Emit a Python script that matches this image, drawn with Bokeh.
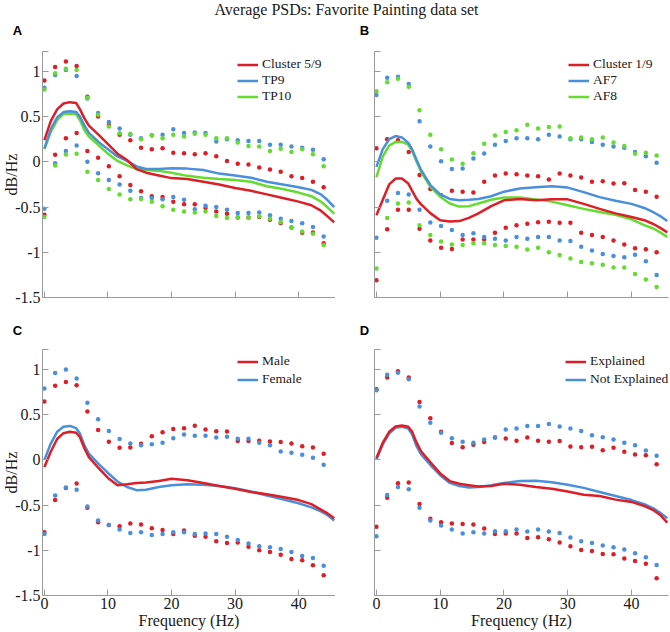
from bokeh.plotting import figure
from bokeh.layouts import column, row
from bokeh.models import (Label, Legend, LegendItem, CustomJSTickFormatter,
                          FixedTicker, Range1d)
from bokeh.embed import file_html
from bokeh.resources import INLINE

TITLE = "Average PSDs: Favorite Painting data set"
PANEL_LETTERS = ["A", "B", "C", "D"]
X_LABEL = "Frequency (Hz)"
Y_LABEL = "dB/Hz"
X_TICKS = [0, 10, 20, 30, 40]
Y_TICKS = [-1.5, -1, -0.5, 0, 0.5, 1]
Y_TOP = 1.22

# frequencies of the dotted (upper / lower) bands
DOT_FREQ = [0.0, 1.69, 3.38, 5.07, 6.76, 8.45, 10.14, 11.83, 13.52, 15.21, 16.9,
            18.59, 20.28, 21.97, 23.66, 25.35, 27.04, 28.73, 30.42, 32.11, 33.8,
            35.49, 37.18, 38.87, 40.56, 42.25, 43.94]
# frequencies of the mean curves
LINE_FREQ = [0, 1, 2, 3, 4, 5, 5.6, 6.3, 7, 8.5, 10, 11.5, 13, 14.5, 16, 18, 20,
             22.5, 25, 27.5, 30, 32.5, 35, 37.5, 40, 42, 43.5, 44.5, 45.6]

RED = "#dc1f26"
BLUE = "#4a8fdb"
GREEN = "#63dc2f"

# ---------------- Panel A ----------------
A_NAMES = ["Cluster 5/9", "TP9", "TP10"]
A_LINE_CLUSTER = [0.24, 0.45, 0.58, 0.645, 0.66, 0.65, 0.58, 0.48, 0.40, 0.30, 0.195, 0.09, 0.02, -0.08, -0.12,
                  -0.15, -0.18, -0.19, -0.22, -0.25, -0.29, -0.32, -0.36, -0.40, -0.44, -0.48, -0.54, -0.60, -0.67]
A_LINE_TP9 = [0.15, 0.36, 0.49, 0.55, 0.56, 0.55, 0.50, 0.40, 0.32, 0.22, 0.14, 0.06, 0.01, -0.05, -0.08,
              -0.08, -0.07, -0.075, -0.09, -0.13, -0.15, -0.175, -0.22, -0.25, -0.28, -0.31, -0.36, -0.42, -0.50]
A_LINE_TP10 = [0.14, 0.33, 0.46, 0.53, 0.535, 0.525, 0.46, 0.35, 0.28, 0.185, 0.09, 0.01, -0.04, -0.08, -0.09,
               -0.10, -0.12, -0.155, -0.175, -0.19, -0.20, -0.22, -0.27, -0.30, -0.34, -0.38, -0.44, -0.50, -0.575]
A_UP_CLUSTER = [0.90, 1.05, 1.11, 1.06, 0.72, 0.50, 0.41, 0.30, 0.24, 0.155, 0.14, 0.15, 0.10, 0.095, 0.085,
                0.095, 0.063, 0.01, -0.02, -0.03, -0.063, -0.085, -0.11, -0.16, -0.18, -0.22, -0.28]
A_UP_TP9 = [0.82, 0.96, 1.015, 0.95, 0.70, 0.54, 0.44, 0.37, 0.30, 0.26, 0.295, 0.30, 0.36, 0.32, 0.325,
            0.32, 0.225, 0.25, 0.24, 0.23, 0.23, 0.19, 0.19, 0.17, 0.155, 0.135, 0.03]
A_UP_TP10 = [0.80, 0.98, 1.03, 1.015, 0.71, 0.52, 0.39, 0.315, 0.31, 0.25, 0.29, 0.26, 0.30, 0.28, 0.31,
             0.30, 0.26, 0.26, 0.215, 0.175, 0.17, 0.12, 0.145, 0.11, 0.14, 0.085, -0.05]
A_LO_CLUSTER = [-0.585, 0.078, 0.26, 0.32, 0.12, 0.045, -0.05, -0.16, -0.255, -0.325, -0.38, -0.39, -0.44, -0.47,
                -0.47, -0.51, -0.55, -0.575, -0.615, -0.615, -0.61, -0.64, -0.675, -0.725, -0.785, -0.78, -0.90]
A_LO_TP9 = [-0.52, -0.015, 0.12, 0.18, 0.0, -0.125, -0.2, -0.25, -0.32, -0.40, -0.40, -0.415, -0.39, -0.42,
            -0.525, -0.485, -0.50, -0.53, -0.565, -0.565, -0.56, -0.59, -0.63, -0.655, -0.68, -0.72, -0.825]
A_LO_TP10 = [-0.61, -0.04, 0.08, 0.09, -0.11, -0.20, -0.30, -0.36, -0.415, -0.41, -0.44, -0.49, -0.53, -0.55,
             -0.56, -0.55, -0.60, -0.62, -0.61, -0.62, -0.605, -0.63, -0.665, -0.73, -0.77, -0.795, -0.92]

# ---------------- Panel B ----------------
B_NAMES = ["Cluster 1/9", "AF7", "AF8"]
B_LINE_CLUSTER = [-0.59, -0.42, -0.25, -0.185, -0.185, -0.24, -0.32, -0.41, -0.47, -0.57, -0.645, -0.66, -0.655,
                  -0.62, -0.57, -0.49, -0.425, -0.41, -0.425, -0.415, -0.415, -0.465, -0.52, -0.57, -0.61, -0.645,
                  -0.69, -0.73, -0.78]
B_LINE_AF7 = [-0.055, 0.14, 0.25, 0.285, 0.27, 0.21, 0.14, 0.02, -0.09, -0.26, -0.36, -0.41, -0.425, -0.42, -0.41,
              -0.38, -0.33, -0.295, -0.28, -0.27, -0.285, -0.335, -0.39, -0.43, -0.465, -0.51, -0.56, -0.60, -0.655]
B_LINE_AF8 = [-0.17, 0.06, 0.18, 0.22, 0.22, 0.19, 0.12, 0.0, -0.11, -0.28, -0.385, -0.46, -0.495, -0.49, -0.46,
              -0.42, -0.395, -0.395, -0.415, -0.44, -0.48, -0.52, -0.555, -0.585, -0.635, -0.70, -0.74, -0.78, -0.83]
B_UP_CLUSTER = [0.15, 0.25, 0.24, 0.11, -0.145, -0.30, -0.37, -0.32, -0.33, -0.34, -0.22, -0.15, -0.13, -0.137,
                -0.15, -0.16, -0.196, -0.13, -0.15, -0.174, -0.22, -0.215, -0.24, -0.237, -0.31, -0.33, -0.385]
B_UP_AF7 = [0.74, 0.93, 0.94, 0.86, 0.45, 0.17, 0.007, -0.08, -0.075, 0.037, 0.093, 0.19, 0.23, 0.26, 0.26,
            0.25, 0.30, 0.28, 0.25, 0.25, 0.22, 0.19, 0.17, 0.155, 0.11, 0.063, -0.01]
B_UP_AF8 = [0.78, 0.88, 0.92, 0.83, 0.57, 0.30, 0.14, 0.026, -0.02, 0.096, 0.20, 0.29, 0.33, 0.35, 0.41,
            0.37, 0.385, 0.39, 0.26, 0.27, 0.25, 0.27, 0.215, 0.175, 0.09, 0.10, 0.07]
B_LO_CLUSTER = [-1.31, -0.745, -0.53, -0.53, -0.74, -0.87, -0.95, -0.965, -0.86, -0.86, -0.86, -0.785, -0.73,
                -0.70, -0.685, -0.667, -0.663, -0.674, -0.674, -0.785, -0.81, -0.83, -0.87, -0.915, -0.955,
                -0.967, -1.0]
B_LO_AF7 = [-0.84, -0.43, -0.345, -0.36, -0.53, -0.67, -0.71, -0.755, -0.81, -0.79, -0.83, -0.85, -0.87, -0.83,
            -0.85, -0.83, -0.83, -0.87, -0.874, -0.94, -0.98, -1.02, -1.04, -1.055, -1.026, -1.1, -1.25]
B_LO_AF8 = [-1.18, -0.62, -0.46, -0.45, -0.70, -0.81, -0.88, -0.915, -0.92, -0.90, -0.90, -0.92, -0.93, -0.94,
            -0.97, -0.95, -1.0, -1.03, -1.07, -1.107, -1.12, -1.137, -1.167, -1.167, -1.24, -1.30, -1.385]

# ---------------- Panel C ----------------
C_NAMES = ["Male", "Female"]
C_LINE_MALE = [-0.08, 0.09, 0.23, 0.295, 0.31, 0.30, 0.25, 0.125, 0.03, -0.09, -0.20, -0.28, -0.27, -0.255,
               -0.25, -0.235, -0.21, -0.225, -0.255, -0.29, -0.32, -0.355, -0.38, -0.41, -0.445, -0.49, -0.55,
               -0.59, -0.645]
C_LINE_FEMALE = [0.0, 0.18, 0.31, 0.365, 0.375, 0.35, 0.29, 0.16, 0.07, -0.045, -0.145, -0.24, -0.30, -0.335,
                 -0.33, -0.30, -0.28, -0.27, -0.275, -0.29, -0.315, -0.35, -0.395, -0.435, -0.48, -0.525, -0.57,
                 -0.61, -0.67]
C_UP_MALE = [0.645, 0.82, 0.86, 0.826, 0.535, 0.33, 0.2, 0.133, 0.137, 0.177, 0.26, 0.306, 0.34, 0.35, 0.376,
             0.336, 0.317, 0.314, 0.207, 0.207, 0.21, 0.203, 0.196, 0.18, 0.15, 0.137, 0.066]
C_UP_FEMALE = [0.79, 0.96, 1.0, 0.90, 0.63, 0.45, 0.32, 0.23, 0.18, 0.16, 0.173, 0.19, 0.24, 0.28, 0.266,
               0.266, 0.247, 0.255, 0.232, 0.232, 0.19, 0.162, 0.092, 0.077, 0.055, 0.022, -0.055]
C_LO_MALE = [-0.80, -0.445, -0.31, -0.262, -0.53, -0.69, -0.72, -0.734, -0.705, -0.716, -0.756, -0.775, -0.82,
             -0.78, -0.84, -0.85, -0.90, -0.92, -0.915, -0.96, -1.0, -1.02, -1.05, -1.096, -1.11, -1.166, -1.277]
C_LO_FEMALE = [-0.82, -0.395, -0.306, -0.33, -0.515, -0.67, -0.72, -0.77, -0.81, -0.80, -0.83, -0.82, -0.80,
               -0.80, -0.82, -0.815, -0.82, -0.85, -0.886, -0.926, -0.956, -0.967, -0.985, -1.02, -1.063,
               -1.085, -1.17]

# ---------------- Panel D ----------------
D_NAMES = ["Explained", "Not Explained"]
D_LINE_EXPL = [0.02, 0.19, 0.31, 0.37, 0.38, 0.365, 0.31, 0.19, 0.095, -0.03, -0.15, -0.235, -0.265, -0.28,
               -0.295, -0.29, -0.265, -0.275, -0.30, -0.32, -0.35, -0.385, -0.40, -0.44, -0.465, -0.51, -0.56,
               -0.61, -0.695]
D_LINE_NOT = [0.005, 0.17, 0.29, 0.355, 0.365, 0.345, 0.28, 0.15, 0.06, -0.06, -0.17, -0.255, -0.29, -0.305,
              -0.30, -0.28, -0.255, -0.235, -0.232, -0.248, -0.275, -0.31, -0.355, -0.40, -0.445, -0.49, -0.54,
              -0.585, -0.645]
D_UP_EXPL = [0.78, 0.91, 0.98, 0.91, 0.64, 0.46, 0.31, 0.185, 0.14, 0.166, 0.196, 0.247, 0.236, 0.21, 0.247,
             0.21, 0.20, 0.207, 0.148, 0.14, 0.144, 0.107, 0.133, 0.089, 0.059, 0.052, -0.048]
D_UP_NOT = [0.77, 0.94, 0.963, 0.89, 0.59, 0.41, 0.30, 0.24, 0.20, 0.19, 0.225, 0.247, 0.336, 0.347, 0.373,
            0.373, 0.395, 0.37, 0.347, 0.32, 0.273, 0.25, 0.225, 0.19, 0.162, 0.103, 0.044]
D_LO_EXPL = [-0.74, -0.42, -0.26, -0.25, -0.487, -0.65, -0.69, -0.705, -0.71, -0.716, -0.76, -0.82, -0.815,
             -0.815, -0.863, -0.856, -0.878, -0.915, -0.956, -0.996, -1.007, -1.04, -1.044, -1.09, -1.118,
             -1.148, -1.31]
D_LO_NOT = [-0.845, -0.39, -0.30, -0.325, -0.53, -0.67, -0.727, -0.77, -0.815, -0.80, -0.815, -0.79, -0.79,
            -0.77, -0.793, -0.77, -0.793, -0.81, -0.86, -0.90, -0.92, -0.948, -0.967, -0.99, -1.033, -1.077,
            -1.162]

SERIF = "Liberation Serif"
AXIS_GRAY = "#9a9a9a"
TEXT_DARK = "#1a1a1a"


def make_panel(names, colors, lines, uppers, lowers, width, height,
               border_left, border_right, border_top, border_bottom, show_y, show_x,
               leg_vx, leg_vy, leg_spacing):
    p = figure(width=width, height=height,
               x_range=Range1d(-0.3, 45.8), y_range=Range1d(-1.5, Y_TOP),
               toolbar_location=None, output_backend="svg",
               min_border_left=border_left, min_border_right=border_right,
               min_border_top=border_top, min_border_bottom=border_bottom)
    p.grid.visible = False
    p.outline_line_color = None

    for ax in (p.xaxis[0], p.yaxis[0]):
        ax.axis_line_color = AXIS_GRAY
        ax.axis_line_width = 1
        ax.major_tick_line_color = AXIS_GRAY
        ax.major_tick_in = 6
        ax.major_tick_out = 0
        ax.minor_tick_line_color = None
        ax.major_label_text_font = SERIF
        ax.major_label_text_font_size = "16px"
        ax.major_label_text_color = TEXT_DARK
        ax.major_label_standoff = 2
        ax.axis_label_text_font = SERIF
        ax.axis_label_text_font_size = "16px"
        ax.axis_label_text_font_style = "normal"
        ax.axis_label_text_color = TEXT_DARK
    p.xaxis.ticker = FixedTicker(ticks=X_TICKS)
    # the extra tick closes the top end of the y axis (no label)
    p.yaxis.ticker = FixedTicker(ticks=Y_TICKS + [Y_TOP])
    if show_y:
        p.yaxis.formatter = CustomJSTickFormatter(code="return tick > 1.1 ? '' : String(tick);")
        p.yaxis.axis_label = Y_LABEL
        p.yaxis.axis_label_standoff = -8
    else:
        p.yaxis.formatter = CustomJSTickFormatter(code="return '';")
    if show_x:
        p.xaxis.formatter = CustomJSTickFormatter(code="return String(tick);")
        p.xaxis.axis_label = X_LABEL
        p.xaxis.axis_label_standoff = 0
    else:
        p.xaxis.formatter = CustomJSTickFormatter(code="return '';")

    # dotted bands
    for c, up, lo in zip(colors, uppers, lowers):
        p.scatter(DOT_FREQ, up, size=4.5, fill_color=c, line_color=None)
        p.scatter(DOT_FREQ, lo, size=4.5, fill_color=c, line_color=None)

    # mean curves (first series drawn last, i.e. on top)
    rends = {}
    for i in reversed(range(len(names))):
        rends[i] = p.line(LINE_FREQ, lines[i], line_width=2.5, line_color=colors[i])

    items = [LegendItem(label=names[i], renderers=[rends[i]]) for i in range(len(names))]
    legend = Legend(items=items, location=(leg_vx, leg_vy),
                    border_line_color=None, background_fill_alpha=0,
                    padding=0, margin=0, spacing=leg_spacing,
                    glyph_width=21, glyph_height=15, label_height=15,
                    label_standoff=4, label_text_font=SERIF,
                    label_text_font_size="13.5px", label_text_color=TEXT_DARK)
    p.add_layout(legend)
    return p


def strip(height):
    s = figure(width=670, height=height, x_range=Range1d(0, 1), y_range=Range1d(0, 1),
               x_axis_type=None, y_axis_type=None, toolbar_location=None,
               output_backend="svg", min_border=0)
    s.grid.visible = False
    s.outline_line_color = None
    return s


def letter(text, x, y):
    return Label(x=x, y=y, x_units="screen", y_units="screen", text=text,
                 text_font="Liberation Sans", text_font_style="bold",
                 text_font_size="13px", text_color="black",
                 text_align="center", text_baseline="middle")


# header strip: overall title + letters of the top row
head = strip(39)
head.add_layout(Label(x=346, y=39, x_units="screen", y_units="screen", text=TITLE,
                      text_font=SERIF, text_font_size="16px", text_color=TEXT_DARK,
                      text_align="center", text_baseline="top"))
head.add_layout(letter(PANEL_LETTERS[0], 17, 9.5))
head.add_layout(letter(PANEL_LETTERS[1], 364, 9.5))

pA = make_panel(A_NAMES, [RED, BLUE, GREEN],
                [A_LINE_CLUSTER, A_LINE_TP9, A_LINE_TP10],
                [A_UP_CLUSTER, A_UP_TP9, A_UP_TP10],
                [A_LO_CLUSTER, A_LO_TP9, A_LO_TP10],
                335, 281, 42, 0, 12, 23, True, False, 195, 193, 0)
pB = make_panel(B_NAMES, [RED, BLUE, GREEN],
                [B_LINE_CLUSTER, B_LINE_AF7, B_LINE_AF8],
                [B_UP_CLUSTER, B_UP_AF7, B_UP_AF8],
                [B_LO_CLUSTER, B_LO_AF7, B_LO_AF8],
                335, 281, 39, 2, 12, 23, False, False, 194, 193, 0)

# middle strip: letters of the bottom row
mid = strip(20)
mid.add_layout(letter(PANEL_LETTERS[2], 17, 10))
mid.add_layout(letter(PANEL_LETTERS[3], 364, 10))

pC = make_panel(C_NAMES, [RED, BLUE],
                [C_LINE_MALE, C_LINE_FEMALE],
                [C_UP_MALE, C_UP_FEMALE],
                [C_LO_MALE, C_LO_FEMALE],
                335, 292, 42, 0, 9, 37, True, True, 195, 208, 2)
pD = make_panel(D_NAMES, [RED, BLUE],
                [D_LINE_EXPL, D_LINE_NOT],
                [D_UP_EXPL, D_UP_NOT],
                [D_LO_EXPL, D_LO_NOT],
                335, 292, 39, 2, 9, 37, False, True, 191, 208, 2)

p = column(head, row(pA, pB), mid, row(pC, pD))

with open("out.html", "w") as f:
    f.write(file_html(p, INLINE))
